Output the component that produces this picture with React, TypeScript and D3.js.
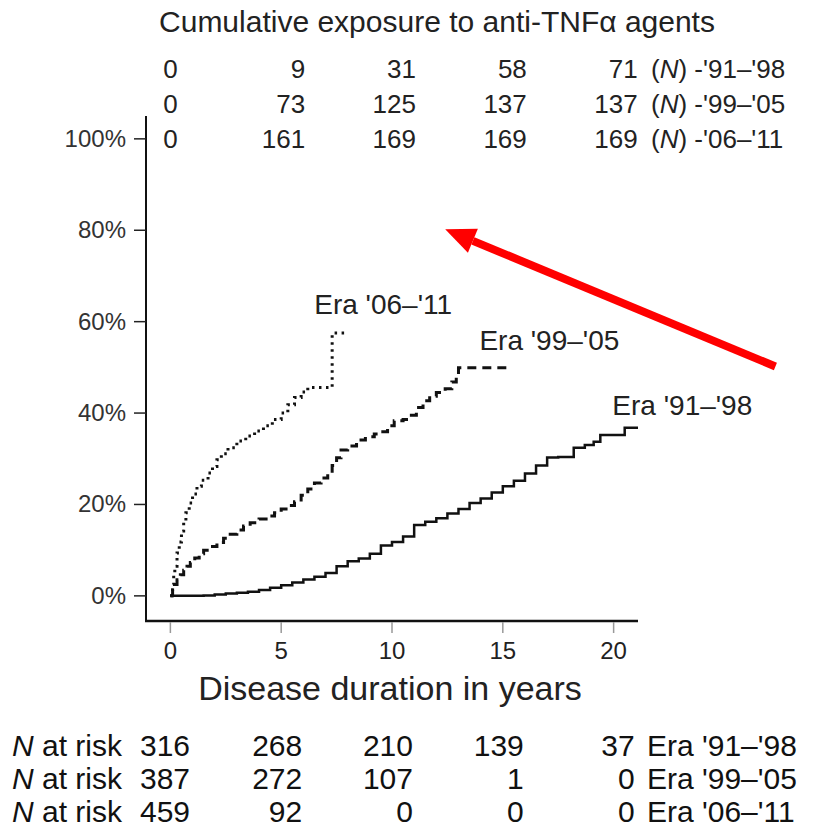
import React from "react";
import * as d3 from "d3";

// Axis ticks
const yearTicks = [0, 5, 10, 15, 20];
const pctTicks = [0, 20, 40, 60, 80, 100];

// Cumulative exposure counts (N) per era at each year tick
const exposure91 = [0, 9, 31, 58, 71];
const exposure99 = [0, 73, 125, 137, 137];
const exposure06 = [0, 161, 169, 169, 169];
const exposureLabels = ["'91\u2013'98", "'99\u2013'05", "'06\u2013'11"];

// Number at risk per era at each year tick
const atRisk91 = [316, 268, 210, 139, 37];
const atRisk99 = [387, 272, 107, 1, 0];
const atRisk06 = [459, 92, 0, 0, 0];
const eraNames = ["Era '91\u2013'98", "Era '99\u2013'05", "Era '06\u2013'11"];

// Cumulative incidence curves: [years, percent]
const era91: [number, number][] = [
  [0, 0], [0.5, 0], [1, 0], [1.5, 0.1], [2, 0.3], [2.5, 0.5], [3, 0.7], [3.5, 0.9],
  [4, 1.3], [4.5, 1.8], [5, 2.3], [5.5, 2.9], [6, 3.6], [6.5, 4.2], [7, 5.0],
  [7.5, 6.5], [8, 7.6], [8.5, 8.2], [9, 9.2], [9.5, 11.0], [10, 11.8], [10.5, 13.0],
  [11, 15.5], [11.5, 16.2], [12, 17.0], [12.5, 18.0], [13, 19.0], [13.5, 20.3],
  [14, 21.3], [14.5, 22.6], [15, 24.0], [15.5, 25.2], [16, 26.8], [16.5, 28.5],
  [17, 30.3], [17.5, 30.4], [18.2, 32.4], [18.7, 33.0], [19.1, 33.7], [19.4, 35.2],
  [20.5, 36.8], [21.1, 36.8],
];
const era99: [number, number][] = [
  [0, 0], [0.1, 1.3], [0.2, 2.5], [0.3, 3.5], [0.45, 4.6], [0.6, 5.6], [0.75, 6.5],
  [0.9, 7.3], [1.1, 8.3], [1.3, 9.2], [1.5, 10.0], [1.8, 10.8], [2.1, 11.7],
  [2.4, 12.6], [2.7, 13.5], [3.0, 14.4], [3.3, 15.3], [3.6, 16.0], [4.0, 16.8],
  [4.4, 17.5], [4.7, 18.2], [5.0, 19.0], [5.3, 19.8], [5.6, 20.6], [5.9, 22.0],
  [6.2, 23.4], [6.5, 24.7], [6.8, 25.8], [7.1, 26.9], [7.3, 28.5], [7.5, 30.2],
  [7.7, 31.9], [8.0, 32.8], [8.4, 34.1], [8.8, 34.8], [9.2, 35.4], [9.5, 35.9],
  [9.8, 37.2], [10.1, 38.3], [10.5, 38.6], [10.8, 39.5], [11.1, 41.2], [11.4, 42.7],
  [11.7, 43.7], [12.0, 44.5], [12.4, 45.3], [12.7, 46.8], [12.9, 48.5], [13.0, 49.9],
  [15.2, 49.9],
];
const era06: [number, number][] = [
  [0, 0], [0.05, 0.7], [0.1, 2.5], [0.15, 4.5], [0.2, 6.5], [0.3, 9.4], [0.4, 11.8],
  [0.5, 14.2], [0.6, 16.4], [0.7, 18.2], [0.85, 20.3], [1.0, 22.3], [1.2, 24.0],
  [1.4, 25.3], [1.7, 26.9], [1.9, 28.3], [2.1, 29.8], [2.3, 31.1], [2.6, 32.4],
  [3.0, 33.9], [3.4, 35.0], [3.8, 36.1], [4.2, 37.2], [4.6, 38.6], [5.0, 40.0],
  [5.3, 41.8], [5.6, 43.4], [5.9, 44.6], [6.2, 45.6], [7.2, 45.7], [7.3, 57.5],
  [8.0, 57.5],
];

const W = 813;
const H = 833;
const font = "'Liberation Sans', Arial, Helvetica, sans-serif";

const x = d3.scaleLinear().domain([-1.1, 21.1]).range([146, 638]);
const y = d3.scaleLinear().domain([-5.5, 105]).range([621, 116]);

const line = d3
  .line<[number, number]>()
  .x((d) => x(d[0]))
  .y((d) => y(d[1]))
  .curve(d3.curveStepAfter);

// Curve labels and annotation arrow, in data units
const curveLabels: { text: string; yr: number; pct: number }[] = [
  { text: eraNames[2], yr: 9.6, pct: 61.6 },
  { text: eraNames[1], yr: 17.1, pct: 53.8 },
  { text: eraNames[0], yr: 23.1, pct: 39.6 },
];
const arrowTail: [number, number] = [27.3, 50.2];
const arrowTip: [number, number] = [12.4, 80.2];

export default function App() {
  const exposureRows = [exposure91, exposure99, exposure06];
  const riskRows = [atRisk91, atRisk99, atRisk06];

  const x0 = x(arrowTail[0]);
  const y0 = y(arrowTail[1]);
  const x1 = x(arrowTip[0]);
  const y1 = y(arrowTip[1]);
  const ang = Math.atan2(y1 - y0, x1 - x0);
  const headLen = 30;
  const headHalf = 13;
  const bx = x1 - headLen * Math.cos(ang);
  const by = y1 - headLen * Math.sin(ang);
  const px = -Math.sin(ang);
  const py = Math.cos(ang);
  const head = [
    [x1, y1],
    [bx + headHalf * px, by + headHalf * py],
    [bx - headHalf * px, by - headHalf * py],
  ]
    .map((p) => p.join(","))
    .join(" ");

  return (
    <svg
      width={W}
      height={H}
      style={{ position: "absolute", left: 0, top: 0, background: "#fff" }}
      fontFamily={font}
    >
      {/* Title */}
      <text x={437} y={32} textAnchor="middle" fontSize={30} fill="#222">
        Cumulative exposure to anti-TNFα agents
      </text>

      {/* Cumulative exposure table */}
      {exposureRows.map((row, ri) => {
        const by = 78 + ri * 35;
        return (
          <g key={"exp" + ri} fontSize={26} fill="#222">
            {row.map((v, ci) =>
              ci === 0 ? (
                <text key={ci} x={x(yearTicks[ci])} y={by} textAnchor="middle">
                  {v}
                </text>
              ) : (
                <text key={ci} x={x(yearTicks[ci]) + 24} y={by} textAnchor="end">
                  {v}
                </text>
              )
            )}
            <text x={651} y={by}>
              (<tspan fontStyle="italic">N</tspan>) -{exposureLabels[ri]}
            </text>
          </g>
        );
      })}

      {/* Axes */}
      <line x1={146} x2={146} y1={y(105)} y2={622} stroke="#111" strokeWidth={2} />
      <line x1={145} x2={x(21.1)} y1={621} y2={621} stroke="#111" strokeWidth={2.5} />
      {pctTicks.map((t) => (
        <g key={"yt" + t}>
          <line x1={134} x2={146} y1={y(t)} y2={y(t)} stroke="#222" strokeWidth={1.5} />
          <text x={126} y={y(t) + 8} textAnchor="end" fontSize={24} fill="#333">
            {t}%
          </text>
        </g>
      ))}
      {yearTicks.map((t) => (
        <g key={"xt" + t}>
          <line x1={x(t)} x2={x(t)} y1={622} y2={633} stroke="#999" strokeWidth={1.5} />
          <text x={x(t)} y={659} textAnchor="middle" fontSize={24} fill="#222">
            {t}
          </text>
        </g>
      ))}
      <text x={390} y={700} textAnchor="middle" fontSize={34} fill="#222">
        Disease duration in years
      </text>

      {/* Curves */}
      <path d={line(era91) || ""} fill="none" stroke="#111" strokeWidth={2.5} />
      <path
        d={line(era99) || ""}
        fill="none"
        stroke="#111"
        strokeWidth={3}
        strokeDasharray="9,6"
      />
      <path
        d={line(era06) || ""}
        fill="none"
        stroke="#111"
        strokeWidth={3}
        strokeDasharray="2.5,4.5"
      />
      {curveLabels.map((l) => (
        <text
          key={l.text}
          x={x(l.yr)}
          y={y(l.pct)}
          textAnchor="middle"
          fontSize={28}
          fill="#222"
        >
          {l.text}
        </text>
      ))}

      {/* Annotation arrow */}
      <line x1={x0} y1={y0} x2={bx} y2={by} stroke="#f00" strokeWidth={8} />
      <polygon points={head} fill="#f00" />

      {/* Number at risk table */}
      {riskRows.map((row, ri) => {
        const by = 756 + ri * 33;
        return (
          <g key={"risk" + ri} fontSize={30} fill="#111">
            <text x={12} y={by}>
              <tspan fontStyle="italic">N</tspan> at risk
            </text>
            {row.map((v, ci) =>
              ci === 0 ? (
                <text key={ci} x={140} y={by}>
                  {v}
                </text>
              ) : (
                <text key={ci} x={x(yearTicks[ci]) + 21} y={by} textAnchor="end">
                  {v}
                </text>
              )
            )}
            <text x={647} y={by}>
              {eraNames[ri]}
            </text>
          </g>
        );
      })}
    </svg>
  );
}
